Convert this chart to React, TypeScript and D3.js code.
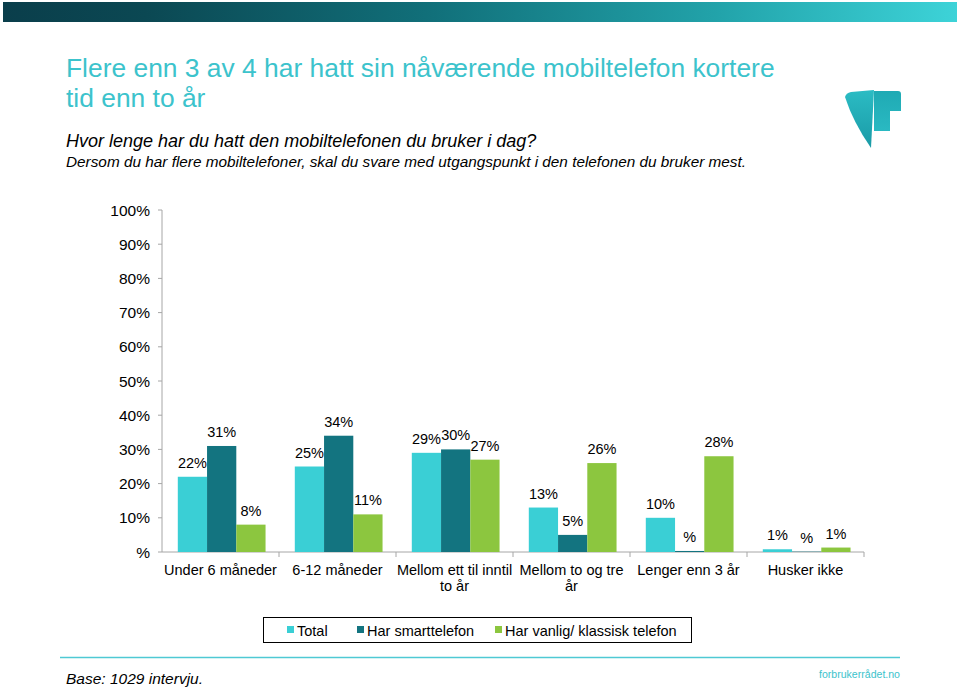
import React from "react";
import * as d3 from "d3";

const categories = [
  "Under 6 måneder",
  "6-12 måneder",
  "Mellom ett til inntil\nto år",
  "Mellom to og tre\når",
  "Lenger enn 3 år",
  "Husker ikke",
];
const seriesNames = ["Total", "Har smarttelefon", "Har vanlig/ klassisk telefon"];
const totalValues = [22, 25, 29, 13, 10, 0.8];
const smartValues = [31, 34, 30, 5, 0.3, 0.1];
const classicValues = [8, 11, 27, 26, 28, 1.3];
const seriesColors = ["#3acfd5", "#137480", "#8cc63f"];
const yTicks = [0, 10, 20, 30, 40, 50, 60, 70, 80, 90, 100];

const FONT = "'Liberation Sans', Arial, sans-serif";

export default function App() {
  const W = 960;
  const H = 688;
  const left = 162;
  const right = 864;
  const top = 210;
  const bottom = 552;

  const x = d3.scaleBand<string>().domain(categories).range([left, right]).padding(0);
  const bw = x.bandwidth();
  const inner = d3
    .scaleBand<string>()
    .domain(seriesNames)
    .range([bw * 0.135, bw * 0.885])
    .padding(0);
  const y = d3.scaleLinear().domain([0, 100]).range([bottom, top]);

  const allSeries = [totalValues, smartValues, classicValues];
  const fmt = (v: number) => (Math.round(v) === 0 ? "%" : `${Math.round(v)}%`);

  const legendItems = [
    { sx: 287, tx: 297 },
    { sx: 357, tx: 367 },
    { sx: 495, tx: 505 },
  ];

  return (
    <svg
      width={W}
      height={H}
      style={{ position: "absolute", left: 0, top: 0, background: "#fff" }}
      fontFamily={FONT}
    >
      <defs>
        <linearGradient id="topbar" x1="0" x2="1" y1="0" y2="0">
          <stop offset="0" stopColor="#0a3e4b" />
          <stop offset="0.15" stopColor="#0b4853" />
          <stop offset="0.45" stopColor="#11707a" />
          <stop offset="0.75" stopColor="#22a3aa" />
          <stop offset="1" stopColor="#3dd3d8" />
        </linearGradient>
        <linearGradient id="logoA" x1="0" x2="0" y1="0" y2="1">
          <stop offset="0" stopColor="#2bbcc4" />
          <stop offset="1" stopColor="#1a9aa6" />
        </linearGradient>
        <linearGradient id="logoB" x1="0" x2="0" y1="0" y2="1">
          <stop offset="0" stopColor="#1faab4" />
          <stop offset="1" stopColor="#2ab9c2" />
        </linearGradient>
      </defs>

      <rect x={3} y={2} width={954} height={20} fill="url(#topbar)" />

      {/* Title */}
      <text x={66} y={77} fontSize={26.4} fill="#3cc3cc">
        Flere enn 3 av 4 har hatt sin nåværende mobiltelefon kortere
      </text>
      <text x={66} y={107} fontSize={26.4} fill="#3cc3cc">
        tid enn to år
      </text>
      <text x={66} y={147} fontSize={18} fontStyle="italic" fill="#000">
        Hvor lenge har du hatt den mobiltelefonen du bruker i dag?
      </text>
      <text
        x={66}
        y={167}
        fontSize={15}
        fontStyle="italic"
        fill="#000"
        textLength={680}
        lengthAdjust="spacingAndGlyphs"
      >
        Dersom du har flere mobiltelefoner, skal du svare med utgangspunkt i den telefonen du bruker mest.
      </text>

      {/* Logo */}
      <path d="M845,97 Q846,93 851,92 L874,90 L871,148 Q853,122 845,97 Z" fill="url(#logoA)" />
      <path d="M874,91 L898,91 Q901,91 901,94 L901,111 L890,111 L890,131 L874,131 Z" fill="url(#logoB)" />

      {/* Y axis */}
      <line x1={left} x2={left} y1={top} y2={bottom} stroke="#a6a6a6" strokeWidth={1} />
      {yTicks.map((t) => (
        <g key={t}>
          <line x1={left - 4} x2={left} y1={y(t)} y2={y(t)} stroke="#a6a6a6" />
          <text x={150} y={y(t) + 5.5} textAnchor="end" fontSize={15.5} fill="#000">
            {t === 0 ? "%" : `${t}%`}
          </text>
        </g>
      ))}

      {/* X axis */}
      <line x1={left} x2={right} y1={bottom} y2={bottom} stroke="#a6a6a6" />
      {categories.map((c, i) => (
        <line
          key={"t" + i}
          x1={(x(c) as number) + bw}
          x2={(x(c) as number) + bw}
          y1={bottom}
          y2={bottom + 5}
          stroke="#a6a6a6"
        />
      ))}

      {/* Bars */}
      {categories.map((c, ci) => (
        <g key={c}>
          {seriesNames.map((s, si) => {
            const v = allSeries[si][ci];
            const bx = (x(c) as number) + (inner(s) as number);
            const by = y(v);
            return (
              <g key={s}>
                <rect
                  x={bx}
                  y={by}
                  width={inner.bandwidth()}
                  height={bottom - by}
                  fill={seriesColors[si]}
                />
                <text
                  x={bx + inner.bandwidth() / 2}
                  y={by - 9}
                  textAnchor="middle"
                  fontSize={14.5}
                  fill="#000"
                >
                  {fmt(v)}
                </text>
              </g>
            );
          })}
          {c.split("\n").map((line, li) => (
            <text
              key={li}
              x={(x(c) as number) + bw / 2}
              y={575 + li * 16}
              textAnchor="middle"
              fontSize={14.5}
              fill="#000"
            >
              {line}
            </text>
          ))}
        </g>
      ))}

      {/* Legend */}
      <rect x={263.5} y={617.5} width={428} height={25} fill="#fff" stroke="#000" strokeWidth={1} />
      {seriesNames.map((s, i) => (
        <g key={s}>
          <rect x={legendItems[i].sx} y={626} width={7} height={7} fill={seriesColors[i]} />
          <text x={legendItems[i].tx} y={635.5} fontSize={14.5} fill="#000">
            {s}
          </text>
        </g>
      ))}

      {/* Footer */}
      <line x1={60} x2={900} y1={657.5} y2={657.5} stroke="#4fc9d4" strokeWidth={1.5} />
      <text x={66} y={684} fontSize={15.5} fontStyle="italic" fill="#000">
        Base: 1029 intervju.
      </text>
      <text
        x={900}
        y={678}
        fontSize={11}
        textAnchor="end"
        fill="#3cc3cc"
        textLength={81}
        lengthAdjust="spacingAndGlyphs"
      >
        forbrukerrådet.no
      </text>
    </svg>
  );
}
